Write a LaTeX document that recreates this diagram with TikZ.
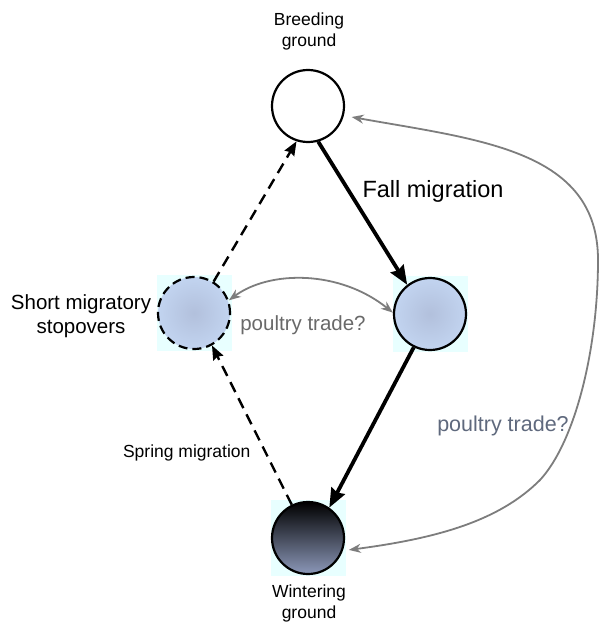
\documentclass[tikz,border=0pt]{standalone}
\usepackage{fontspec}
\setmainfont{Liberation Sans}
\usetikzlibrary{arrows.meta}
\definecolor{arrowgray}{RGB}{125,125,125}
\definecolor{textgray}{RGB}{105,105,105}
\definecolor{slate}{RGB}{95,105,125}
\definecolor{cyanbg}{RGB}{232,255,255}
\definecolor{bluein}{RGB}{178,192,220}
\definecolor{blueout}{RGB}{202,222,250}
\definecolor{wbot}{RGB}{140,152,185}
\pgfdeclareradialshading{siteshade}{\pgfpoint{0bp}{0bp}}{color(0bp)=(bluein); color(38bp)=(blueout); color(50bp)=(blueout)}
\begin{document}
\begin{tikzpicture}[x=1pt,y=-1pt,
  site/.style={circle, minimum size=72pt, inner sep=0pt, line width=2.2pt, draw=black},
  bgsq/.style={rectangle, minimum width=75pt, minimum height=76pt, inner sep=0pt, fill=cyanbg},
  lbl/.style={font=\fontsize{20.5}{24}\selectfont, text=black, align=center},
  small/.style={font=\fontsize{17.5}{21}\selectfont},
  bigarrow/.style={line width=3.8pt, -{Stealth[length=19pt,width=15pt,inset=2pt]}},
  dasharrow/.style={line width=2.4pt, dash pattern=on 11pt off 7pt, -{Stealth[length=14pt,width=11pt,inset=1.5pt]}},
  trade/.style={draw=arrowgray, line width=1.8pt, {Stealth[length=12pt,width=9pt]}-{Stealth[length=12pt,width=9pt]}}
]
\useasboundingbox (0,0) rectangle (599,642);

% background squares
\node[bgsq] (Lsq) at (194,313) {};
\node[bgsq] (Rsq) at (430,314) {};
\node[bgsq] (Wsq) at (308,538) {};

% sites
\node[site, fill=white] (B) at (308,106) {};
\node[site, shading=siteshade, dash pattern=on 9pt off 5pt] (L) at (194,313) {};
\node[site, shading=siteshade] (R) at (430,314) {};
\node[site, top color=black, bottom color=wbot] (W) at (308,538) {};

% labels
\node[lbl, small] (tB) at (309,31) {Breeding\\ground};
\node[lbl, small] (tW) at (309,603) {Wintering\\ground};
\node[lbl] (tL) at (81,316) {Short migratory\\stopovers};
\node[lbl, font=\fontsize{23.5}{26}\selectfont, anchor=base west] (tF) at (359,197) {Fall migration};
\node[lbl, small, anchor=base east] (tS) at (254,457) {Spring migration};
\node[lbl, text=textgray, anchor=base] (tP1) at (303,330) {poultry trade?};
\node[lbl, font=\fontsize{21.5}{24}\selectfont, text=slate, anchor=base] (tP2) at (503,431) {poultry trade?};

% migrations
\draw[bigarrow] (B.-74) -- (R.128);
\draw[bigarrow] (R.-116) -- (W.55);
\draw[dasharrow] (W.116) -- (L.-61);
\draw[dasharrow] (L.58) -- (B.-108);

% poultry trade
\draw[trade] (L.20) .. controls (270,270) and (340,270) .. (R.178);
\draw[trade, shorten <=6pt, shorten >=8pt] (W.-20) .. controls (440,538) and (500,520) .. (540,480)
  .. controls (575,442) and (598,350) .. (598,260)
  .. controls (598,150) and (480,140) .. (B.-15);
\end{tikzpicture}
\end{document}
